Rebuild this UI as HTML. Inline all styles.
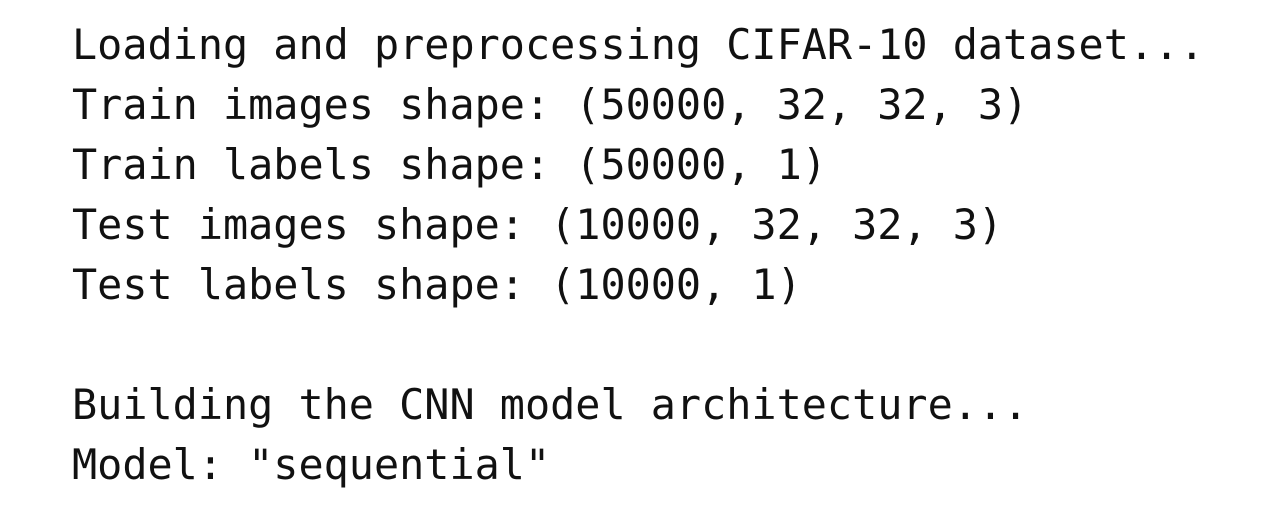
<!DOCTYPE html>
<html>
<head>
<meta charset="utf-8">
<style>
  html, body { margin: 0; padding: 0; background: #ffffff; }
  body { width: 1265px; height: 527px; overflow: hidden; }
  pre {
    margin: 0;
    position: absolute;
    left: 72px;
    top: 15px;
    font-family: "DejaVu Sans Mono", "Liberation Mono", monospace;
    font-size: 41.8px;
    line-height: 60px;
    color: #111111;
  }
  .line { display: block; height: 60px; white-space: pre; }
</style>
</head>
<body>
<pre><span class="line">Loading and preprocessing CIFAR-10 dataset...</span><span class="line">Train images shape: (50000, 32, 32, 3)</span><span class="line">Train labels shape: (50000, 1)</span><span class="line">Test images shape: (10000, 32, 32, 3)</span><span class="line">Test labels shape: (10000, 1)</span><span class="line"> </span><span class="line">Building the CNN model architecture...</span><span class="line">Model: "sequential"</span></pre>
</body>
</html>
